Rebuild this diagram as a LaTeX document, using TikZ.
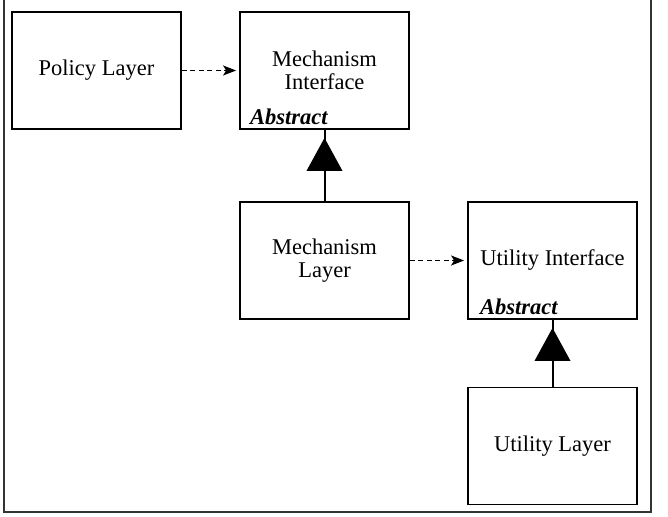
\documentclass[tikz,border=0pt]{standalone}
\usepackage{fontspec}
\setmainfont{Liberation Serif}
\usetikzlibrary{arrows.meta}
\begin{document}
\begin{tikzpicture}[x=1pt,y=-1pt,
  box/.style={draw=black,line width=1.8pt,minimum width=169pt,minimum height=117pt,
    inner sep=0pt,align=center,font=\fontsize{22.5}{23}\selectfont},
  abstr/.style={anchor=base west,inner sep=0pt,font=\fontsize{22.5}{23}\selectfont\bfseries\itshape},
  dep/.style={line width=1.6pt,dash pattern=on 5pt off 3.5pt,-{Stealth[length=13pt,width=10pt,inset=3pt]},shorten >=3pt},
  inh/.style={line width=2pt},
  tri/.style={fill=black}
]
\useasboundingbox (0,0) rectangle (668,516);
\draw[line width=1.4pt,draw=black!80] (4,0) -- (4,512) -- (651,512) -- (651,0);

\node[box] (pl) at (96.5,70.5) {Policy Layer};
\node[box] (mi) at (324.5,70.5) {Mechanism\\Interface};
\node[box] (ml) at (324.5,260.5) {Mechanism\\Layer};
\node[box] (ui) at (552.5,260.5) {Utility Interface};
\node[box] (ul) at (552.5,446) {Utility Layer};

\node[abstr] (mia) at (250,124) {Abstract};
\node[abstr] (uia) at (480,314) {Abstract};

\draw[dep] (pl.east) -- (mi.west);
\draw[dep] (ml.east) -- (ui.west);

\draw[inh] (ml.north) -- (mi.south);
\fill[tri] ([yshift=-8pt]mi.south) -- ++(-18,33) -- ++(36,0) -- cycle;
\draw[inh] (ul.north) -- (ui.south);
\fill[tri] ([yshift=-8pt]ui.south) -- ++(-18,33) -- ++(36,0) -- cycle;
\end{tikzpicture}
\end{document}
